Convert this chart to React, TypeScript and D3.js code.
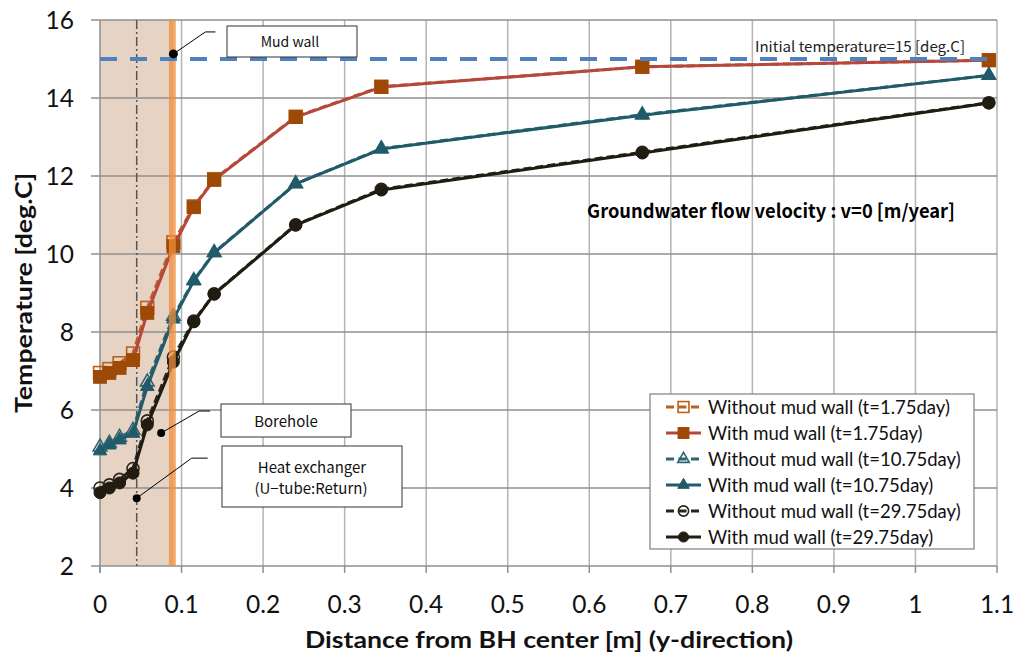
import React from 'react';
import * as d3 from 'd3';

// ---------- data ----------
const distance = [0, 0.0115, 0.024, 0.0405, 0.058, 0.09, 0.115, 0.14, 0.24, 0.345, 0.665, 1.09];
const withoutWall175 = [6.95, 7.05, 7.2, 7.45, 8.62, 10.3, 11.22, 11.92, 13.52, 14.29, 14.8, 14.97];
const withWall175 = [6.85, 6.95, 7.08, 7.28, 8.49, 10.2, 11.2, 11.9, 13.51, 14.28, 14.8, 14.97];
const withoutWall1075 = [5.05, 5.15, 5.3, 5.48, 6.72, 8.4, 9.32, 10.04, 11.8, 12.7, 13.57, 14.58];
const withWall1075 = [4.95, 5.1, 5.23, 5.4, 6.6, 8.33, 9.31, 10.03, 11.8, 12.69, 13.56, 14.58];
const withoutWall2975 = [4.0, 4.08, 4.22, 4.5, 5.72, 7.36, 8.28, 8.98, 10.75, 11.66, 12.61, 13.88];
const withWall2975 = [3.88, 4.0, 4.13, 4.38, 5.62, 7.23, 8.26, 8.97, 10.74, 11.64, 12.59, 13.87];

const xTicks = [0, 0.1, 0.2, 0.3, 0.4, 0.5, 0.6, 0.7, 0.8, 0.9, 1, 1.1];
const yTicks = [2, 4, 6, 8, 10, 12, 14, 16];
const xTickLabels = ['0', '0.1', '0.2', '0.3', '0.4', '0.5', '0.6', '0.7', '0.8', '0.9', '1', '1.1'];

const initialTemperature = 15;
const uTubeX = 0.045;
const mudWallFrom = 0.0845;
const mudWallTo = 0.093;
const boreholeEdge = 0.09;
const mudWallPoint = [0.09, 15.13];
const boreholePoint = [0.075, 5.41];
const heatExchangerPoint = [0.045, 3.74];

const seriesNames = [
  'Without mud wall (t=1.75day)',
  'With mud wall (t=1.75day)',
  'Without mud wall (t=10.75day)',
  'With mud wall (t=10.75day)',
  'Without mud wall (t=29.75day)',
  'With mud wall (t=29.75day)',
];
const seriesValues = [withoutWall175, withWall175, withoutWall1075, withWall1075, withoutWall2975, withWall2975];

type Style = { line: string; marker: string; shape: 'square' | 'triangle' | 'circle'; hollow: boolean; dashed: boolean };
const styles: Style[] = [
  { line: '#B8621E', marker: '#B8621E', shape: 'square', hollow: true, dashed: true },
  { line: '#B5473F', marker: '#9E4A06', shape: 'square', hollow: false, dashed: false },
  { line: '#2E6470', marker: '#2E6470', shape: 'triangle', hollow: true, dashed: true },
  { line: '#215B6A', marker: '#215B6A', shape: 'triangle', hollow: false, dashed: false },
  { line: '#2A2418', marker: '#2A2418', shape: 'circle', hollow: true, dashed: true },
  { line: '#201C12', marker: '#201C12', shape: 'circle', hollow: false, dashed: false },
];

// ---------- layout ----------
const W = 1017;
const H = 659;
const L = 100, T = 20, R = 997, B = 566;

const x = d3.scaleLinear().domain([0, 1.1]).range([L, R]);
const y = d3.scaleLinear().domain([2, 16]).range([B, T]);

const tickFont = 'Lato, "Open Sans", sans-serif';
const jpFont = '"Noto Sans CJK JP", "Noto Sans", sans-serif';

function Marker({ cx, cy, s, scale = 1 }: { cx: number; cy: number; s: Style; scale?: number }) {
  const fill = s.hollow ? 'none' : s.marker;
  const sw = s.hollow ? 1.6 : 1;
  if (s.shape === 'square') {
    const h = 6.4 * scale;
    return <rect x={cx - h} y={cy - h} width={2 * h} height={2 * h} fill={fill} stroke={s.marker} strokeWidth={sw} />;
  }
  if (s.shape === 'triangle') {
    const p = d3.symbol(d3.symbolTriangle, 80 * scale * scale)();
    return <path d={p || ''} transform={`translate(${cx},${cy})`} fill={fill} stroke={s.marker} strokeWidth={sw} />;
  }
  return <circle cx={cx} cy={cy} r={6 * scale} fill={fill} stroke={s.marker} strokeWidth={sw} />;
}

export default function App() {
  const line = d3
    .line<number>()
    .x((_, i) => x(distance[i]))
    .y((d) => y(d));

  const legendX = 650, legendY = 394, legendW = 324, legendH = 155;
  const rowH = 26;

  const md = [x(mudWallPoint[0]), y(mudWallPoint[1])];
  const bh = [x(boreholePoint[0]), y(boreholePoint[1])];
  const hx = [x(heatExchangerPoint[0]), y(heatExchangerPoint[1])];

  return (
    <div style={{ position: 'absolute', left: 0, top: 0 }}>
      <svg width={W} height={H} viewBox={`0 0 ${W} ${H}`} style={{ display: 'block', background: '#fff' }}>
        {/* borehole shading */}
        <rect x={x(0)} y={T} width={x(boreholeEdge) - x(0)} height={B - T} fill="#E6D3C3" />

        {/* grid */}
        {xTicks.slice(1).map((t) => (
          <line key={'gx' + t} x1={x(t)} x2={x(t)} y1={T} y2={B} stroke="#B4B4B4" strokeWidth={1.5} />
        ))}
        {yTicks.map((t) => (
          <line key={'gy' + t} x1={L - 9} x2={R} y1={y(t)} y2={y(t)} stroke="#8F8F8F" strokeWidth={1.5} />
        ))}
        {/* axes */}
        <line x1={L} x2={L} y1={T} y2={B + 7} stroke="#8F8F8F" strokeWidth={1.5} />
        {xTicks.map((t) => (
          <line key={'tx' + t} x1={x(t)} x2={x(t)} y1={B} y2={B + 7} stroke="#8F8F8F" strokeWidth={1.5} />
        ))}

        {/* U-tube dash-dot line */}
        <line x1={x(uTubeX)} x2={x(uTubeX)} y1={T} y2={B} stroke="#555" strokeWidth={1.5} strokeDasharray="9,3,2,3" />

        {/* series */}
        {seriesValues.map((vals, si) => {
          const s = styles[si];
          return (
            <g key={'s' + si}>
              <path
                d={line(vals) || ''}
                fill="none"
                stroke={s.line}
                strokeWidth={3}
                strokeDasharray={s.dashed ? '8,4' : undefined}
                strokeLinejoin="round"
              />
              {vals.map((v, i) => (
                <Marker key={i} cx={x(distance[i])} cy={y(v)} s={s} />
              ))}
            </g>
          );
        })}

        {/* mud wall band */}
        <rect x={x(mudWallFrom)} y={T} width={x(mudWallTo) - x(mudWallFrom)} height={B - T} fill="#EE8E3C" opacity={0.75} />

        {/* initial temperature */}
        <line
          x1={x(0)}
          x2={R}
          y1={y(initialTemperature)}
          y2={y(initialTemperature)}
          stroke="#4F81BD"
          strokeWidth={4}
          strokeDasharray="17,13"
        />
        <text x={755} y={52} fontFamily={jpFont} fontSize={14.5} fill="#222" textLength={210} lengthAdjust="spacingAndGlyphs">
          Initial temperature=15 [deg.C]
        </text>

        {/* annotations */}
        <polyline points={`${md[0]},${md[1]} ${md[0] + 32},${md[1] - 22} ${md[0] + 42},${md[1] - 22}`} fill="none" stroke="#000" strokeWidth={1} />
        <circle cx={md[0]} cy={md[1]} r={4.5} fill="#000" />
        <rect x={227} y={26} width={130} height={31} fill="#fff" stroke="#333" strokeWidth={1} />
        <text x={290} y={47} textAnchor="middle" fontFamily={jpFont} fontSize={14} fill="#111">Mud wall</text>

        <polyline points={`${bh[0]},${bh[1]} ${bh[0] + 38},${bh[1] - 22} ${bh[0] + 49},${bh[1] - 22}`} fill="none" stroke="#000" strokeWidth={1} />
        <circle cx={bh[0]} cy={bh[1]} r={4} fill="#000" />
        <rect x={221} y={404} width={130} height={33} fill="#fff" stroke="#333" strokeWidth={1} />
        <text x={286} y={427} textAnchor="middle" fontFamily={jpFont} fontSize={15} fill="#111">Borehole</text>

        <polyline points={`${hx[0]},${hx[1]} ${hx[0] + 55},${hx[1] - 40} ${hx[0] + 71},${hx[1] - 40}`} fill="none" stroke="#000" strokeWidth={1} />
        <circle cx={hx[0]} cy={hx[1]} r={4} fill="#000" />
        <rect x={222} y={446} width={180} height={61} fill="#fff" stroke="#333" strokeWidth={1} />
        <text x={312} y={473} textAnchor="middle" fontFamily={jpFont} fontSize={15} fill="#111">Heat exchanger</text>
        <text x={311} y={494} textAnchor="middle" fontFamily={jpFont} fontSize={15} fill="#111">(U−tube:Return)</text>

        <text x={587} y={218} fontFamily={jpFont} fontWeight="bold" fontSize={19} fill="#000" textLength={368} lengthAdjust="spacingAndGlyphs">
          Groundwater flow velocity : v=0 [m/year]
        </text>

        {/* tick labels */}
        {yTicks.map((t) => (
          <text key={'ly' + t} x={74} y={y(t) + 8.5} textAnchor="end" fontFamily={tickFont} fontSize={24.5} fill="#111">
            {t}
          </text>
        ))}
        {xTicks.map((t, i) => (
          <text key={'lx' + t} x={x(t)} y={613} textAnchor="middle" fontFamily={tickFont} fontSize={24.5} fill="#111">
            {xTickLabels[i]}
          </text>
        ))}

        {/* axis titles */}
        <text
          transform={`translate(32,293) rotate(-90)`}
          textAnchor="middle"
          fontFamily={tickFont}
          fontWeight="bold"
          fontSize={23}
          fill="#111"
          textLength={240}
          lengthAdjust="spacingAndGlyphs"
        >
          Temperature [deg.C]
        </text>
        <text x={549} y={648} textAnchor="middle" fontFamily={tickFont} fontWeight="bold" fontSize={23} fill="#111" textLength={488} lengthAdjust="spacingAndGlyphs">
          Distance from BH center [m] (y-direction)
        </text>

        {/* legend */}
        <rect x={legendX} y={legendY} width={legendW} height={legendH} fill="#fff" stroke="#7F7F7F" strokeWidth={1.2} />
        {seriesNames.map((name, i) => {
          const s = styles[i];
          const cy = legendY + 13 + i * rowH;
          return (
            <g key={'lg' + i}>
              <line
                x1={666}
                x2={701}
                y1={cy}
                y2={cy}
                stroke={s.line}
                strokeWidth={3}
                strokeDasharray={s.dashed ? '8,4.5' : undefined}
              />
              <Marker cx={683.5} cy={cy} s={s} scale={0.85} />
              <text x={708} y={cy + 6.5} fontFamily={tickFont} fontSize={18.5} fill="#111">
                {name}
              </text>
            </g>
          );
        })}
      </svg>
    </div>
  );
}
